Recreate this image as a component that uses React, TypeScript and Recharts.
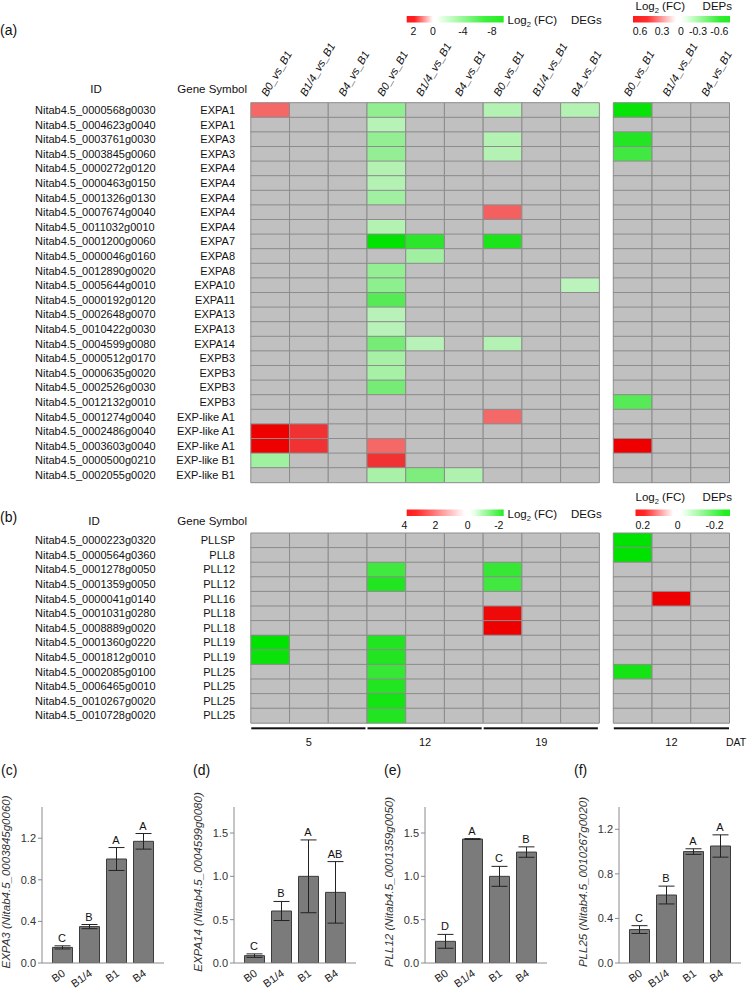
import React from "react";
import {
  BarChart,
  Bar,
  XAxis,
  YAxis,
  Cell,
  ComposedChart,
  Line,
  ErrorBar,
  LabelList,
  Label
} from "recharts";

const FONT = '"Liberation Sans", Arial, Helvetica, sans-serif';
const _ = null;

// ---- (a) expansins ----
const expIds = [
  "Nitab4.5_0000568g0030", "Nitab4.5_0004623g0040", "Nitab4.5_0003761g0030",
  "Nitab4.5_0003845g0060", "Nitab4.5_0000272g0120", "Nitab4.5_0000463g0150",
  "Nitab4.5_0001326g0130", "Nitab4.5_0007674g0040", "Nitab4.5_0011032g0010",
  "Nitab4.5_0001200g0060", "Nitab4.5_0000046g0160", "Nitab4.5_0012890g0020",
  "Nitab4.5_0005644g0010", "Nitab4.5_0000192g0120", "Nitab4.5_0002648g0070",
  "Nitab4.5_0010422g0030", "Nitab4.5_0004599g0080", "Nitab4.5_0000512g0170",
  "Nitab4.5_0000635g0020", "Nitab4.5_0002526g0030", "Nitab4.5_0012132g0010",
  "Nitab4.5_0001274g0040", "Nitab4.5_0002486g0040", "Nitab4.5_0003603g0040",
  "Nitab4.5_0000500g0210", "Nitab4.5_0002055g0020"
];
const expSymbols = [
  "EXPA1", "EXPA1", "EXPA3", "EXPA3", "EXPA4", "EXPA4", "EXPA4", "EXPA4", "EXPA4",
  "EXPA7", "EXPA8", "EXPA8", "EXPA10", "EXPA11", "EXPA13", "EXPA13", "EXPA14",
  "EXPB3", "EXPB3", "EXPB3", "EXPB3", "EXP-like A1", "EXP-like A1", "EXP-like A1",
  "EXP-like B1", "EXP-like B1"
];
// DEG log2(FC): 5 DAT (B0, B1/4, B4) | 12 DAT (B0, B1/4, B4) | 19 DAT (B0, B1/4, B4)
const expDeg: (number | null)[][] = [
  [1.25, _, _, -2.6, _, _, -1.3, _, -1.3],
  [_, _, _, -1.2, _, _, _, _, _],
  [_, _, _, -2.5, _, _, -1.3, _, _],
  [_, _, _, -2.5, _, _, -1.3, _, _],
  [_, _, _, -1.3, _, _, _, _, _],
  [_, _, _, -1.3, _, _, _, _, _],
  [_, _, _, -2.0, _, _, _, _, _],
  [_, _, _, _, _, _, 1.35, _, _],
  [_, _, _, -1.3, _, _, _, _, _],
  [_, _, _, -8.0, -6.4, _, -7.0, _, _],
  [_, _, _, _, -2.0, _, _, _, _],
  [_, _, _, -2.5, _, _, _, _, _],
  [_, _, _, -2.7, _, _, _, _, -1.0],
  [_, _, _, -4.8, _, _, _, _, _],
  [_, _, _, -1.1, _, _, _, _, _],
  [_, _, _, -1.1, _, _, _, _, _],
  [_, _, _, -3.6, -1.1, _, -1.3, _, _],
  [_, _, _, -1.8, _, _, _, _, _],
  [_, _, _, -1.8, _, _, _, _, _],
  [_, _, _, -3.6, _, _, _, _, _],
  [_, _, _, _, _, _, _, _, _],
  [_, _, _, _, _, _, 1.25, _, _],
  [2.6, 1.95, _, _, _, _, _, _, _],
  [2.6, 1.95, _, 1.25, _, _, _, _, _],
  [-2.1, _, _, 1.95, _, _, _, _, _],
  [_, _, _, -1.7, -3.3, -1.5, _, _, _]
];
// DEP log2(FC) at 12 DAT (B0, B1/4, B4)
const expDep: (number | null)[][] = [
  [-0.58, _, _], [_, _, _], [-0.5, _, _], [-0.42, _, _], [_, _, _], [_, _, _],
  [_, _, _], [_, _, _], [_, _, _], [_, _, _], [_, _, _], [_, _, _], [_, _, _],
  [_, _, _], [_, _, _], [_, _, _], [_, _, _], [_, _, _], [_, _, _], [_, _, _],
  [-0.36, _, _], [_, _, _], [_, _, _], [0.62, _, _], [_, _, _], [_, _, _]
];

// ---- (b) pectate lyase-like ----
const pllIds = [
  "Nitab4.5_0000223g0320", "Nitab4.5_0000564g0360", "Nitab4.5_0001278g0050",
  "Nitab4.5_0001359g0050", "Nitab4.5_0000041g0140", "Nitab4.5_0001031g0280",
  "Nitab4.5_0008889g0020", "Nitab4.5_0001360g0220", "Nitab4.5_0001812g0010",
  "Nitab4.5_0002085g0100", "Nitab4.5_0006465g0010", "Nitab4.5_0010267g0020",
  "Nitab4.5_0010728g0020"
];
const pllSymbols = [
  "PLLSP", "PLL8", "PLL12", "PLL12", "PLL16", "PLL18", "PLL18", "PLL19", "PLL19",
  "PLL25", "PLL25", "PLL25", "PLL25"
];
const pllDeg: (number | null)[][] = [
  [_, _, _, _, _, _, _, _, _],
  [_, _, _, _, _, _, _, _, _],
  [_, _, _, -1.55, _, _, -1.65, _, _],
  [_, _, _, -1.87, _, _, -1.55, _, _],
  [_, _, _, _, _, _, _, _, _],
  [_, _, _, _, _, _, 3.8, _, _],
  [_, _, _, _, _, _, 4.0, _, _],
  [-2.2, _, _, -1.87, _, _, _, _, _],
  [-2.1, _, _, -1.87, _, _, _, _, _],
  [_, _, _, -1.65, _, _, _, _, _],
  [_, _, _, -1.87, _, _, _, _, _],
  [_, _, _, -2.0, _, _, _, _, _],
  [_, _, _, -1.87, _, _, _, _, _]
];
const pllDep: (number | null)[][] = [
  [-0.22, _, _], [-0.22, _, _], [_, _, _], [_, _, _], [_, 0.22, _], [_, _, _],
  [_, _, _], [_, _, _], [_, _, _], [-0.2, _, _], [_, _, _], [_, _, _], [_, _, _]
];

const comparisons = ["B0_vs_B1", "B1/4_vs_B1", "B4_vs_B1"];
const degDays = ["5", "12", "19"];
const depDays = ["12"];

// legend tick labels
const expDegLegend = ["2", "0", "-4", "-8"];
const expDepLegend = ["0.6", "0.3", "0", "-0.3", "-0.6"];
const pllDegLegend = ["4", "2", "0", "-2"];
const pllDepLegend = ["0.2", "0", "-0.2"];

// ---- (c)-(f) qRT-PCR ----
const groups = ["B0", "B1/4", "B1", "B4"];
const expa3Mean = [0.15, 0.35, 1.0, 1.17];
const expa3Sd = [0.015, 0.02, 0.11, 0.075];
const expa3Sig = ["C", "B", "A", "A"];
const expa14Mean = [0.085, 0.6, 1.0, 0.815];
const expa14Sd = [0.02, 0.11, 0.42, 0.355];
const expa14Sig = ["C", "B", "A", "AB"];
const pll12Mean = [0.25, 1.43, 1.0, 1.28];
const pll12Sd = [0.08, 0.005, 0.115, 0.06];
const pll12Sig = ["D", "A", "C", "B"];
const pll25Mean = [0.3, 0.61, 1.0, 1.05];
const pll25Sd = [0.035, 0.08, 0.025, 0.1];
const pll25Sig = ["C", "B", "A", "A"];

// ---- heatmap layout ----
const HM_LEFT = 250.8;
const HM_RIGHT = 729.5;
const GAP = 0.36;
const N_UNITS = 9 + GAP + 3;
const CELL_W = (HM_RIGHT - HM_LEFT) / N_UNITS;
const ROW_H = 14.6;
const DEG_KEYS = ["g0", "g1", "g2", "g3", "g4", "g5", "g6", "g7", "g8"];
const DEP_KEYS = ["p0", "p1", "p2"];
const colCenters = [
  ...DEG_KEYS.map((_k, i) => i + 0.5),
  ...DEP_KEYS.map((_k, i) => 9 + GAP + i + 0.5)
];
const colX = (u: number) => HM_LEFT + u * CELL_W;

const GRAY = "#c0c0c0";
const RED = [238, 0, 0];
const PINK = [250, 200, 200];
const GREEN = [0, 226, 0];
const MINT = [215, 245, 215];

function mix(a: number[], b: number[], t: number) {
  const c = a.map((v, i) => Math.round(v + (b[i] - v) * t));
  return `rgb(${c[0]},${c[1]},${c[2]})`;
}

function heat(v: number | null, upMax: number, downMax: number) {
  if (v === null) return GRAY;
  if (v >= 0) return mix(PINK, RED, Math.min(1, v / upMax));
  return mix(MINT, GREEN, Math.min(1, -v / downMax));
}

function buildRows(ids: string[], syms: string[]) {
  return ids.map((id, r) => {
    const row: Record<string, string | number> = { id, sym: syms[r], gap: GAP };
    DEG_KEYS.forEach((k) => (row[k] = 1));
    DEP_KEYS.forEach((k) => (row[k] = 1));
    return row;
  });
}

function HeaderTick(props: any) {
  const { x, payload } = props;
  const i = colCenters.indexOf(payload.value);
  const label = comparisons[i % 3];
  const tx = x - 3;
  const ty = 97;
  return (
    <text
      x={tx}
      y={ty}
      transform={`rotate(-60, ${tx}, ${ty})`}
      fontSize={11}
      fontStyle="italic"
      fontFamily={FONT}
      fill="#111"
    >
      {label}
    </text>
  );
}

function Heatmap(props: {
  ids: string[];
  syms: string[];
  deg: (number | null)[][];
  dep: (number | null)[][];
  degRange: [number, number];
  depRange: [number, number];
  top: number;
  headers: boolean;
}) {
  const { ids, syms, deg, dep, degRange, depRange, top, headers } = props;
  const rows = buildRows(ids, syms);
  const mTop = headers ? 42.7 : 1;
  const xH = headers ? 60 : 0;
  const height = mTop + xH + rows.length * ROW_H + 3.7;
  const symOf = (id: string) => syms[ids.indexOf(id)];
  return (
    <div style={{ position: "absolute", left: 0, top }}>
      <BarChart
        layout="vertical"
        width={752}
        height={height}
        data={rows}
        margin={{ top: mTop, right: 752 - HM_RIGHT, bottom: 3.7, left: 0 }}
        barCategoryGap={0}
        barGap={0}
      >
        <XAxis
          type="number"
          domain={[0, N_UNITS]}
          ticks={colCenters}
          orientation="top"
          hide={!headers}
          height={xH}
          axisLine={false}
          tickLine={false}
          interval={0}
          tick={(p: any) => <HeaderTick {...p} />}
        />
        <YAxis
          type="category"
          dataKey="id"
          width={HM_LEFT}
          interval={0}
          axisLine={false}
          tickLine={false}
          tick={(p: any) => (
            <g fontFamily={FONT} fontSize={11} fill="#111">
              <text x={35} y={p.y} dy="0.36em" textAnchor="start">
                {p.payload.value}
              </text>
              <text x={235} y={p.y} dy="0.36em" textAnchor="end">
                {symOf(p.payload.value)}
              </text>
            </g>
          )}
        />
        {DEG_KEYS.map((k, c) => (
          <Bar key={k} dataKey={k} stackId="hm" stroke="#8c8c8c" strokeWidth={1} isAnimationActive={false}>
            {rows.map((_r, r) => (
              <Cell key={r} fill={heat(deg[r][c], degRange[0], degRange[1])} />
            ))}
          </Bar>
        ))}
        <Bar dataKey="gap" stackId="hm" fill="none" stroke="none" isAnimationActive={false} />
        {DEP_KEYS.map((k, c) => (
          <Bar key={k} dataKey={k} stackId="hm" stroke="#8c8c8c" strokeWidth={1} isAnimationActive={false}>
            {rows.map((_r, r) => (
              <Cell key={r} fill={heat(dep[r][c], depRange[0], depRange[1])} />
            ))}
          </Bar>
        ))}
      </BarChart>
    </div>
  );
}

function GroupTick(props: any) {
  const { x, y, payload } = props;
  const tx = x + 4;
  const ty = y + 12;
  return (
    <text
      x={tx}
      y={ty}
      transform={`rotate(-35, ${tx}, ${ty})`}
      textAnchor="end"
      fontSize={11}
      fontFamily={FONT}
      fill="#222"
    >
      {payload.value}
    </text>
  );
}

function QpcrPanel(props: {
  left: number;
  gene: string;
  locus: string;
  mean: number[];
  sd: number[];
  sig: string[];
  yMax: number;
  yTicks: number[];
}) {
  const { left, gene, locus, mean, sd, sig, yMax, yTicks } = props;
  const data = groups.map((g, i) => ({
    g,
    mean: mean[i],
    sd: sd[i],
    top: mean[i] + sd[i],
    sig: sig[i]
  }));
  return (
    <div style={{ position: "absolute", left, top: 770 }}>
      <ComposedChart width={190} height={222} data={data} margin={{ top: 37, right: 26, bottom: 0, left: 10 }}>
        <XAxis
          dataKey="g"
          height={29}
          padding={{ left: 6.5, right: 7.5 }}
          axisLine={{ stroke: "#8a8a8a" }}
          tickLine={false}
          tickSize={0}
          tickMargin={0}
          interval={0}
          tick={(p: any) => <GroupTick {...p} />}
        />
        <YAxis
          type="number"
          width={32}
          domain={[0, yMax]}
          ticks={yTicks}
          allowDataOverflow
          tickFormatter={(v: number) => v.toFixed(1)}
          tick={{ fontSize: 11, fill: "#333", fontFamily: FONT }}
          axisLine={{ stroke: "#8a8a8a" }}
          tickLine={{ stroke: "#8a8a8a" }}
          tickSize={4}
          tickMargin={2}
        >
          <Label
            content={(lp: any) => {
              const vb = lp.viewBox || {};
              const cx = 9.5;
              const cy = (vb.y ?? 37) + (vb.height ?? 156) / 2 - 3;
              return (
                <text
                  transform={`translate(${cx}, ${cy}) rotate(-90)`}
                  textAnchor="middle"
                  fontSize={11.5}
                  fontStyle="italic"
                  fontFamily={FONT}
                  fill="#333"
                >
                  {`${gene} (${locus})`}
                </text>
              );
            }}
          />
        </YAxis>
        <Bar dataKey="mean" barSize={20} fill="#7b7b7b" stroke="#3c3c3c" strokeWidth={1} isAnimationActive={false}>
          <ErrorBar dataKey="sd" width={8} stroke="#222" strokeWidth={1} isAnimationActive={false} />
        </Bar>
        <Line dataKey="top" stroke="none" dot={false} activeDot={false} isAnimationActive={false}>
          <LabelList dataKey="sig" position="top" offset={4} fontSize={11} fill="#111" fontFamily={FONT} />
        </Line>
      </ComposedChart>
    </div>
  );
}

function Log2Title({ x, y }: { x: number; y: number }) {
  return (
    <text x={x} y={y} fontSize={11.5}>
      Log
      <tspan fontSize={7.5} dy={3}>
        2
      </tspan>
      <tspan dy={-3}> (FC)</tspan>
    </text>
  );
}

function Overlay() {
  const stopsA = [
    [0, "#ff1a1a"], [0.08, "#ff2020"], [0.27, "#ffffff"], [0.31, "#ffffff"],
    [0.36, "#e6ffe6"], [0.8, "#40f040"], [1, "#22ee22"]
  ];
  const stopsADep = [
    [0, "#ff1a1a"], [0.15, "#ff3030"], [0.44, "#ffffff"], [0.49, "#ffffff"],
    [0.55, "#e6ffe6"], [0.9, "#30ee30"], [1, "#22ee22"]
  ];
  const stopsB = [
    [0, "#ff1a1a"], [0.1, "#ff2a2a"], [0.6, "#ffffff"], [0.65, "#ffffff"],
    [0.7, "#e6ffe6"], [1, "#22ee22"]
  ];
  const stopsBDep = [
    [0, "#ff1a1a"], [0.1, "#ff2a2a"], [0.4, "#ffffff"], [0.48, "#ffffff"],
    [0.53, "#e6ffe6"], [0.95, "#22ee22"], [1, "#22ee22"]
  ];
  const grad = (id: string, stops: (string | number)[][]) => (
    <linearGradient id={id} x1="0" x2="1" y1="0" y2="0">
      {stops.map((s, i) => (
        <stop key={i} offset={s[0] as number} stopColor={s[1] as string} />
      ))}
    </linearGradient>
  );
  const expDegX = [413.4, 433, 463, 492];
  const expDepX = [640, 662, 681, 698, 719.4];
  const pllDegX = [404.3, 435.5, 467.6, 498.8];
  const pllDepX = [642.7, 677.7, 714.6];
  const ulY = 728.3;
  return (
    <svg
      width={752}
      height={992}
      style={{ position: "absolute", left: 0, top: 0, pointerEvents: "none" }}
      fontFamily={FONT}
      fill="#111"
    >
      <defs>
        {grad("ga", stopsA)}
        {grad("gad", stopsADep)}
        {grad("gb", stopsB)}
        {grad("gbd", stopsBDep)}
      </defs>

      {/* panel tags */}
      <text x={0} y={35} fontSize={14}>(a)</text>
      <text x={0} y={522} fontSize={14}>(b)</text>
      <text x={1} y={775} fontSize={14}>(c)</text>
      <text x={193} y={775} fontSize={14}>(d)</text>
      <text x={384} y={775} fontSize={14}>(e)</text>
      <text x={574} y={775} fontSize={14}>(f)</text>

      {/* column titles */}
      <text x={96} y={93} fontSize={11.5} textAnchor="middle">ID</text>
      <text x={247} y={93} fontSize={11.5} textAnchor="end">Gene Symbol</text>
      <text x={94} y={525} fontSize={11.5} textAnchor="middle">ID</text>
      <text x={247} y={525} fontSize={11.5} textAnchor="end">Gene Symbol</text>

      {/* (a) legends */}
      <rect x={406.7} y={16} width={97} height={6.5} fill="url(#ga)" />
      {expDegLegend.map((t, i) => (
        <text key={t} x={expDegX[i]} y={35} fontSize={10.5} textAnchor="middle">{t}</text>
      ))}
      <Log2Title x={507.5} y={24} />
      <text x={571} y={24} fontSize={11.5}>DEGs</text>
      <rect x={633} y={16} width={97} height={6.5} fill="url(#gad)" />
      {expDepLegend.map((t, i) => (
        <text key={t} x={expDepX[i]} y={35} fontSize={10.5} textAnchor="middle">{t}</text>
      ))}
      <Log2Title x={635.5} y={10} />
      <text x={702.6} y={10} fontSize={11.5}>DEPs</text>

      {/* (b) legends */}
      <rect x={406.7} y={509.5} width={97} height={6.5} fill="url(#gb)" />
      {pllDegLegend.map((t, i) => (
        <text key={t} x={pllDegX[i]} y={528.5} fontSize={10.5} textAnchor="middle">{t}</text>
      ))}
      <Log2Title x={507.5} y={517.5} />
      <text x={571} y={517.5} fontSize={11.5}>DEGs</text>
      <rect x={635.5} y={509.5} width={94.5} height={6.5} fill="url(#gbd)" />
      {pllDepLegend.map((t, i) => (
        <text key={t} x={pllDepX[i]} y={528.5} fontSize={10.5} textAnchor="middle">{t}</text>
      ))}
      <Log2Title x={635.5} y={500.5} />
      <text x={702.6} y={500.5} fontSize={11.5}>DEPs</text>

      {/* sampling days */}
      {degDays.map((d, i) => (
        <g key={"deg" + d}>
          <rect x={colX(i * 3) + 0.5} y={ulY - 1} width={3 * CELL_W - 2} height={2} fill="#111" />
          <text x={colX(i * 3 + 1.5)} y={745.5} fontSize={11} textAnchor="middle">{d}</text>
        </g>
      ))}
      {depDays.map((d) => (
        <g key={"dep" + d}>
          <rect x={colX(9 + GAP) + 0.5} y={ulY - 1} width={3 * CELL_W - 1} height={2} fill="#111" />
          <text x={colX(9 + GAP + 1.5)} y={745.5} fontSize={11} textAnchor="middle">{d}</text>
        </g>
      ))}
      <text x={726} y={745.5} fontSize={10.5}>DAT</text>
    </svg>
  );
}

export default function App() {
  return (
    <div style={{ position: "absolute", left: 0, top: 0, width: 752, height: 992, background: "#fff", fontFamily: FONT }}>
      <Heatmap
        ids={expIds}
        syms={expSymbols}
        deg={expDeg}
        dep={expDep}
        degRange={[2.6, 8]}
        depRange={[0.6, 0.6]}
        top={0}
        headers
      />
      <Heatmap
        ids={pllIds}
        syms={pllSymbols}
        deg={pllDeg}
        dep={pllDep}
        degRange={[4, 2.2]}
        depRange={[0.22, 0.22]}
        top={532.3}
        headers={false}
      />
      <QpcrPanel left={0} gene="EXPA3" locus="Nitab4.5_0003845g0060" mean={expa3Mean} sd={expa3Sd} sig={expa3Sig} yMax={1.5} yTicks={[0, 0.4, 0.8, 1.2]} />
      <QpcrPanel left={191.6} gene="EXPA14" locus="Nitab4.5_0004599g0080" mean={expa14Mean} sd={expa14Sd} sig={expa14Sig} yMax={1.8} yTicks={[0, 0.5, 1.0, 1.5]} />
      <QpcrPanel left={383.3} gene="PLL12" locus="Nitab4.5_0001359g0050" mean={pll12Mean} sd={pll12Sd} sig={pll12Sig} yMax={1.8} yTicks={[0, 0.5, 1.0, 1.5]} />
      <QpcrPanel left={576.6} gene="PLL25" locus="Nitab4.5_0010267g0020" mean={pll25Mean} sd={pll25Sd} sig={pll25Sig} yMax={1.4} yTicks={[0, 0.4, 0.8, 1.2]} />
      <Overlay />
    </div>
  );
}
